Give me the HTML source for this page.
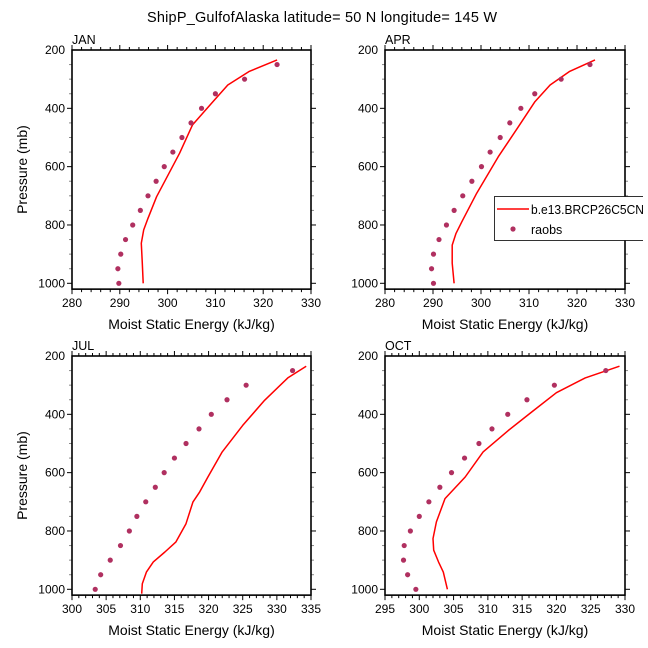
<!DOCTYPE html>
<html><head><meta charset="utf-8"><style>
body{margin:0;background:#fff}
svg{display:block;font-family:"Liberation Sans",sans-serif}
</style></head><body>
<svg id="chart" width="648" height="648" viewBox="0 0 648 648">
<text x="322" y="22" font-size="14.5" text-anchor="middle" textLength="350">ShipP_GulfofAlaska  latitude= 50 N longitude= 145 W</text>
</svg>
<script>
// ---- data ----
const obsLevels = [1000,950,900,850,800,750,700,650,600,550,500,450,400,350,300,250];
const janObs = [289.8,289.6,290.2,291.2,292.7,294.3,295.9,297.6,299.3,301.1,303.0,304.9,307.1,310.0,316.1,322.9];
const aprObs = [290.1,289.7,290.1,291.25,292.8,294.4,296.2,298.1,300.1,301.9,304.0,306.0,308.3,311.2,316.7,322.7];
const julObs = [303.4,304.2,305.6,307.1,308.4,309.5,310.8,312.2,313.5,315.0,316.7,318.6,320.4,322.7,325.5,332.3];
const octObs = [299.5,298.3,297.7,297.8,298.7,300.0,301.4,303.0,304.7,306.6,308.7,310.6,312.9,315.7,319.7,327.2];
const janModP = [1000,931,863,817,777,703,554,457,377,320,274,234];
const janModV = [294.9,294.7,294.5,295.0,295.9,297.7,302.5,305.2,309.5,312.6,317.0,322.9];
const aprModP = [1000,931,869,829,789,691,566,463,377,320,274,234];
const aprModV = [294.4,294.0,294.0,294.8,296.0,299.1,303.6,307.8,311.25,314.4,318.4,323.75];
const julModP = [1015,981,941,906,872,838,775,701,666,615,529,438,352,275,235];
const julModV = [310.2,310.3,310.9,311.9,313.6,315.2,316.7,317.7,318.7,319.9,322.0,325.0,328.2,331.6,334.3];
const octModP = [1000,941,906,866,826,769,689,615,529,455,392,326,275,235];
const octModV = [304.1,303.5,302.8,302.1,302.0,302.5,303.75,306.7,309.3,313.0,316.4,320.0,324.2,329.2];
const yTicks = [200,400,600,800,1000];
const xTicksA = [280,290,300,310,320,330];
const xTicksJ = [300,305,310,315,320,325,330,335];
const xTicksO = [295,300,305,310,315,320,325,330];

const NS='http://www.w3.org/2000/svg';
const svg=document.getElementById('chart');
function mk(tag,attrs,parent){const e=document.createElementNS(NS,tag);for(const k in attrs)e.setAttribute(k,attrs[k]);(parent||svg).appendChild(e);return e;}

const panels=[
 {name:'jan',label:'JAN',x0:72,x1:311,y0:50,xmin:280,xmax:330,xt:xTicksA,minor:2,obs:janObs,mp:janModP,mv:janModV,ytitle:true},
 {name:'apr',label:'APR',x0:385,x1:625,y0:50,xmin:280,xmax:330,xt:xTicksA,minor:2,obs:aprObs,mp:aprModP,mv:aprModV,ytitle:false},
 {name:'jul',label:'JUL',x0:72,x1:311,y0:356,xmin:300,xmax:335,xt:xTicksJ,minor:1,obs:julObs,mp:julModP,mv:julModV,ytitle:true},
 {name:'oct',label:'OCT',x0:385,x1:625,y0:356,xmin:295,xmax:330,xt:xTicksO,minor:1,obs:octObs,mp:octModP,mv:octModV,ytitle:false}
];
const pxPerMb=233.3/800;
panels.forEach(p=>{
  const g=mk('g',{});
  
  
  const xs=v=>p.x0+(v-p.xmin)/(p.xmax-p.xmin)*(p.x1-p.x0);
  const ys=v=>p.y0+(v-200)*pxPerMb;
  const yb=ys(1020);
  const tg=mk('g',{'stroke-width':1},g);
  
  
  for(let v=p.xmin;v<=p.xmax+1e-6;v+=p.minor){
    const major=p.xt.includes(Math.round(v*10)/10);
    const L=major?5:3;const x=xs(v);
    mk('line',{x1:x,x2:x,y1:yb,y2:yb+L,stroke:'#000'},tg);
    mk('line',{x1:x,x2:x,y1:p.y0,y2:p.y0-L,stroke:'#000'},tg);
  }
  for(let v=250;v<=1000;v+=50){
    const major=yTicks.includes(v);const L=major?5:3;const y=ys(v);
    mk('line',{x1:p.x0-L,x2:p.x0,y1:y,y2:y,stroke:major?'#000':'#888'},tg);
    mk('line',{x1:p.x1,x2:p.x1+L,y1:y,y2:y,stroke:major?'#000':'#888'},tg);
  }
  const fr=mk('rect',{x:p.x0,y:p.y0,width:p.x1-p.x0,height:yb-p.y0,fill:'none',stroke:'#000','stroke-width':1.6},g);
  
  
  p.xt.forEach(v=>{
    const t=mk('text',{x:xs(v),y:yb+18,'font-size':12,'text-anchor':'middle'},g);
    t.textContent=v;
    
    
  });
  yTicks.forEach(v=>{
    const t=mk('text',{x:p.x0-7,y:ys(v)+4,'font-size':12,'text-anchor':'end'},g);
    t.textContent=v;
    
    
  });
  const lb=mk('text',{x:p.x0,y:p.y0-6,'font-size':12.5},g);
  lb.textContent=p.label;
  
  
  const xt=mk('text',{x:(p.x0+p.x1)/2,y:yb+40,'font-size':14,'text-anchor':'middle'},g);
  xt.textContent='Moist Static Energy (kJ/kg)';
  
  
  if(p.ytitle){
    const cy=(p.y0+yb)/2;
    const yt=mk('text',{x:27,y:cy,'font-size':14,'text-anchor':'middle',transform:'rotate(-90 27 '+cy+')'},g);
    yt.textContent='Pressure (mb)';
    
    
  }
  const pts=p.mv.map((v,i)=>xs(v).toFixed(1)+','+ys(p.mp[i]).toFixed(1)).join(' ');
  const pl=mk('polyline',{points:pts,fill:'none',stroke:'#ff0000','stroke-width':1.5,'stroke-linejoin':'round'},g);
  
  
  p.obs.forEach((v,i)=>{
    const c=mk('circle',{cx:xs(v),cy:ys(obsLevels[i]),r:2.6,fill:'#b03060'},g);
    
    
  });
});
// legend
const lcp=mk('clipPath',{id:'legclip'});
mk('rect',{x:490,y:190,width:153,height:60},lcp);
const lg=mk('g',{'clip-path':'url(#legclip)'});


mk('rect',{x:494.5,y:196.5,width:170,height:44,fill:'#fff',stroke:'#000','stroke-width':0.8},lg);
mk('line',{x1:497,x2:529,y1:209,y2:209,stroke:'#ff0000','stroke-width':1.5},lg);
const l1=mk('text',{x:531,y:214,'font-size':12.5,textLength:113,lengthAdjust:'spacingAndGlyphs'},lg);
l1.textContent='b.e13.BRCP26C5CN';


mk('circle',{cx:513,cy:229,r:2.6,fill:'#b03060'},lg);
const l2=mk('text',{x:531,y:234,'font-size':12.5},lg);
l2.textContent='raobs';


</script>
</body></html>
